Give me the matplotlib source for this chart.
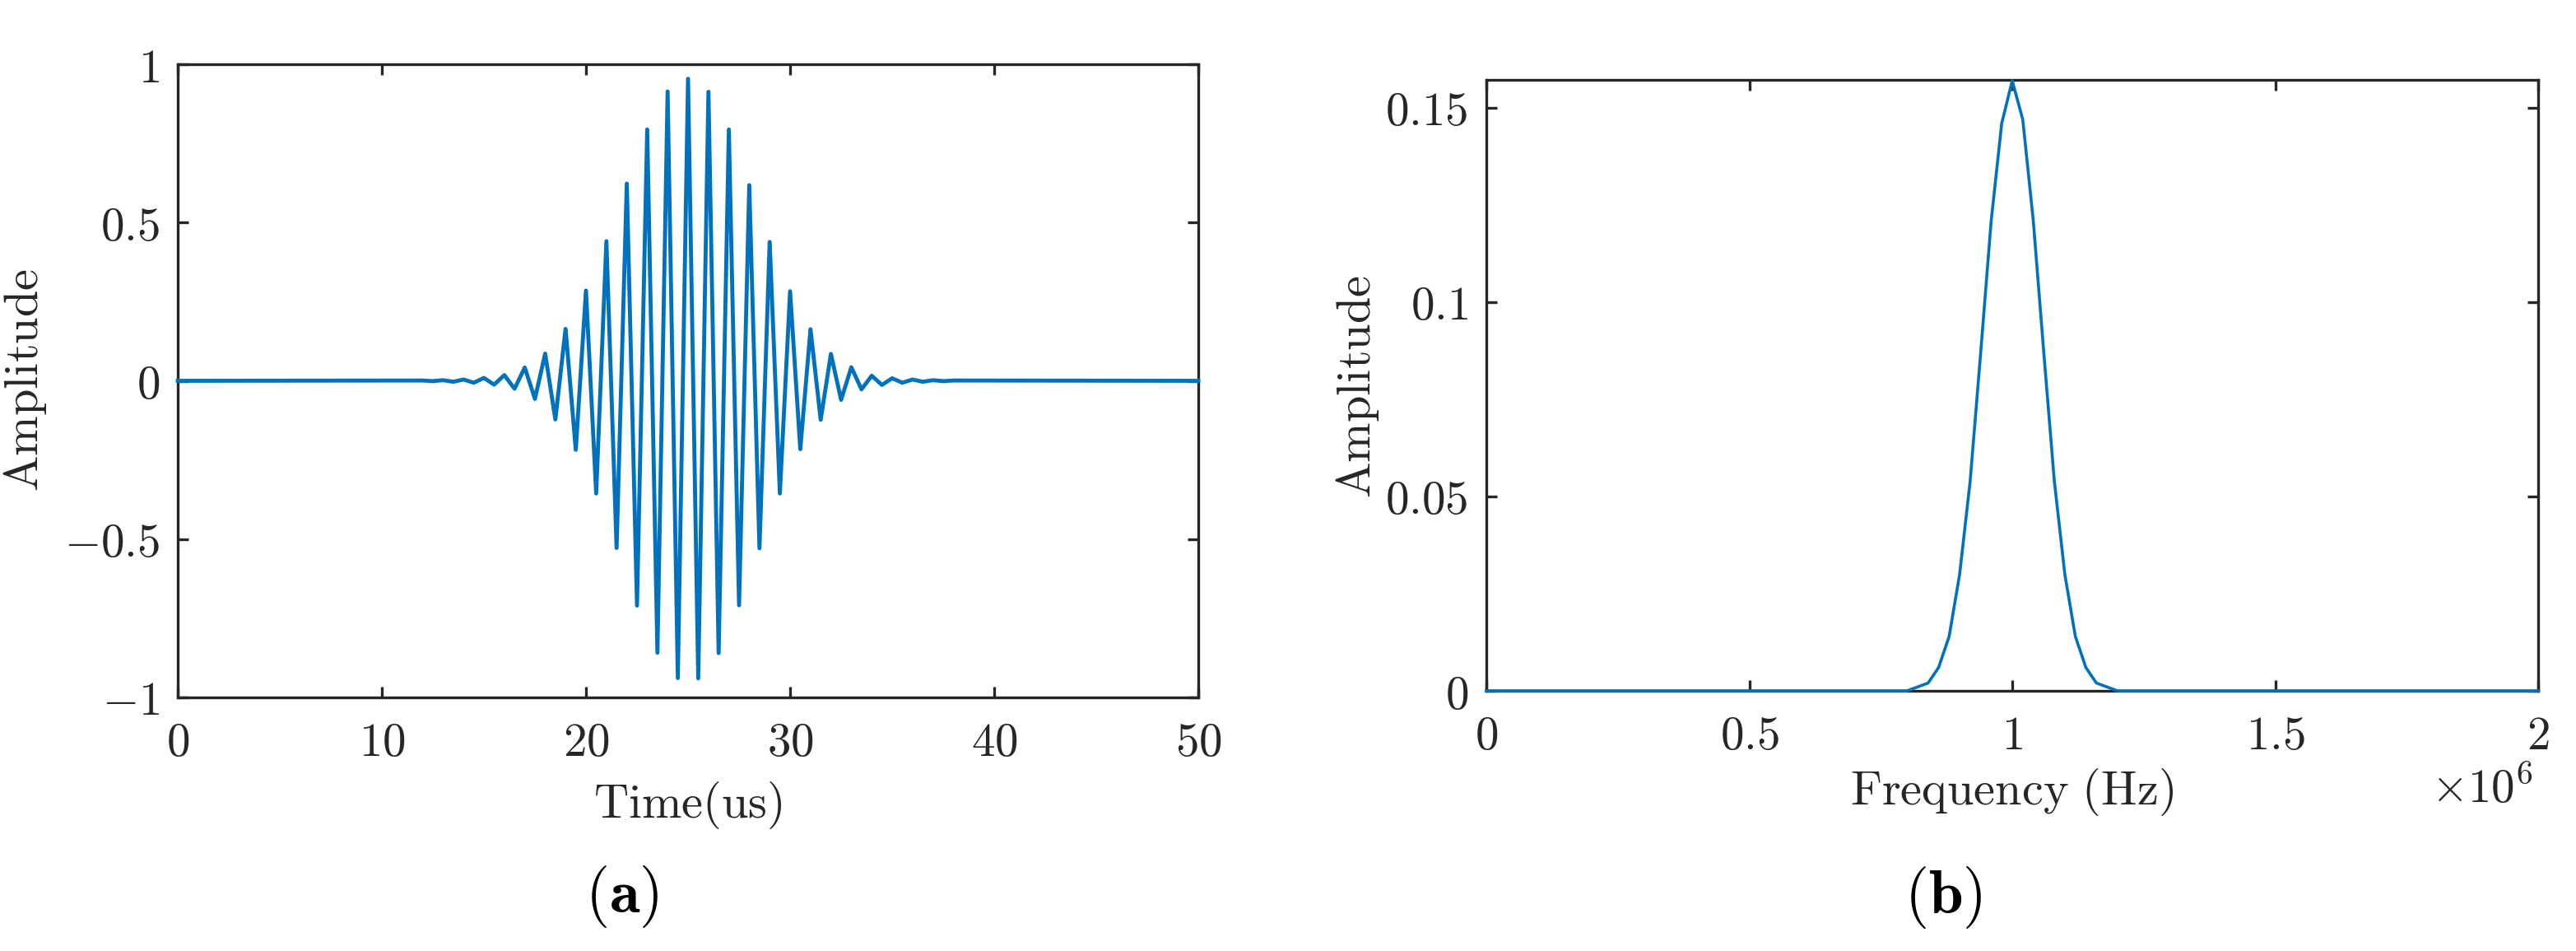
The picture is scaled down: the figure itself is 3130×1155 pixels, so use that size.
import numpy as np
import matplotlib.pyplot as plt

plt.rcParams["mathtext.fontset"] = "cm"

# (a) tone burst: extrema, time in us
peak_t = [12, 13, 14, 15, 16, 17, 18, 19, 20, 21, 22, 23, 24, 25,
          26, 27, 28, 29, 30, 31, 32, 33, 34, 35, 36, 37, 38]
peak_v = [0.001, 0.002, 0.004, 0.009, 0.018, 0.042, 0.086, 0.164, 0.285,
          0.441, 0.623, 0.794, 0.914, 0.954, 0.913, 0.794, 0.618, 0.439,
          0.283, 0.163, 0.085, 0.043, 0.016, 0.008, 0.004, 0.002, 0.001]
trough_t = [12.5, 13.5, 14.5, 15.5, 16.5, 17.5, 18.5, 19.5, 20.5, 21.5,
            22.5, 23.5, 24.5, 25.5, 26.5, 27.5, 28.5, 29.5, 30.5, 31.5,
            32.5, 33.5, 34.5, 35.5, 36.5, 37.5]
trough_v = [-0.001, -0.003, -0.006, -0.012, -0.025, -0.057, -0.122, -0.218,
            -0.356, -0.528, -0.710, -0.859, -0.939, -0.940, -0.860, -0.709,
            -0.529, -0.356, -0.216, -0.123, -0.060, -0.027, -0.013, -0.006,
            -0.003, -0.001]
flat_t = [0, 50]
flat_v = [0, 0]

# (b) amplitude spectrum, frequency in MHz
freq_mhz = [0, 0.80, 0.82, 0.84, 0.86, 0.88, 0.90, 0.92, 0.94, 0.96, 0.98,
            1.00, 1.02, 1.04, 1.06, 1.08, 1.10, 1.12, 1.14, 1.16, 1.18,
            1.20, 2.0]
spec_amp = [0, 0, 0.001, 0.002, 0.006, 0.014, 0.030, 0.054, 0.087, 0.121,
            0.146, 0.157, 0.147, 0.121, 0.087, 0.054, 0.030, 0.014, 0.006,
            0.002, 0.001, 0, 0]

blue = "#0072BD"
dark = "#262626"
W, H = 3130, 1155

t = np.array(peak_t + trough_t + flat_t, dtype=float)
v = np.array(peak_v + trough_v + flat_v, dtype=float)
order = np.argsort(t)
t, v = t[order], v[order]

fig = plt.figure(figsize=(W / 200, H / 200), dpi=200)

ax1 = fig.add_axes([216 / W, 1 - 847 / H, 1240 / W, 769 / H])
ax2 = fig.add_axes([1806 / W, 1 - 839 / H, 1278 / W, 742 / H])

ax1.plot(t, v, color=blue, lw=1.75, clip_on=False, zorder=3,
         solid_joinstyle="round")
ax1.set_xlim(0, 50)
ax1.set_ylim(-1, 1)
ax1.set_xticks([0, 10, 20, 30, 40, 50])
ax1.set_xticklabels([f"${k}$" for k in [0, 10, 20, 30, 40, 50]])
ax1.set_yticks([-1, -0.5, 0, 0.5, 1])
ax1.set_yticklabels(["$-1$", "$-0.5$", "$0$", "$0.5$", "$1$"])

f = np.array(freq_mhz) * 1e6
ax2.plot(f, spec_amp, color=blue, lw=1.3, clip_on=False, zorder=3)
ax2.set_xlim(0, 2e6)
ax2.set_ylim(0, 0.1572)
ax2.set_xticks([0, 0.5e6, 1e6, 1.5e6, 2e6])
ax2.set_xticklabels(["$0$", "$0.5$", "$1$", "$1.5$", "$2$"])
ax2.set_yticks([0, 0.05, 0.1, 0.15])
ax2.set_yticklabels(["$0$", "$0.05$", "$0.1$", "$0.15$"])

for ax in (ax1, ax2):
    for s in ax.spines.values():
        s.set_color(dark)
        s.set_linewidth(1.2)
    ax.tick_params(direction="in", length=4.7, width=1.2, color=dark,
                   labelcolor=dark, labelsize=20.5, top=True, right=True)
    ax.tick_params(axis="x", pad=10)
    ax.tick_params(axis="y", pad=8)

# axis labels
fig.text(31 / W, 1 - 462 / H, r"$\mathrm{Amplitude}$", rotation=90,
         ha="center", va="center", fontsize=21, color=dark)
fig.text(836 / W, 1 - 978 / H, r"$\mathrm{Time(us)}$",
         ha="center", va="center", fontsize=21, color=dark)
fig.text(1649 / W, 1 - 470 / H, r"$\mathrm{Amplitude}$", rotation=90,
         ha="center", va="center", fontsize=21, color=dark)
fig.text(2445 / W, 1 - 962 / H, r"$\mathrm{Frequency\ (Hz)}$",
         ha="center", va="center", fontsize=21, color=dark)
fig.text(3078 / W, 1 - 960 / H, r"$\times10^{6}$",
         ha="right", va="center", fontsize=20.5, color=dark)

# panel tags
fig.text(756 / W, 1 - 1089 / H, r"$(\mathbf{a})$",
         ha="center", va="center", fontsize=27, color="black")
fig.text(2361 / W, 1 - 1090 / H, r"$(\mathbf{b})$",
         ha="center", va="center", fontsize=27, color="black")

fig.savefig("out.png", dpi=200, facecolor="white")
